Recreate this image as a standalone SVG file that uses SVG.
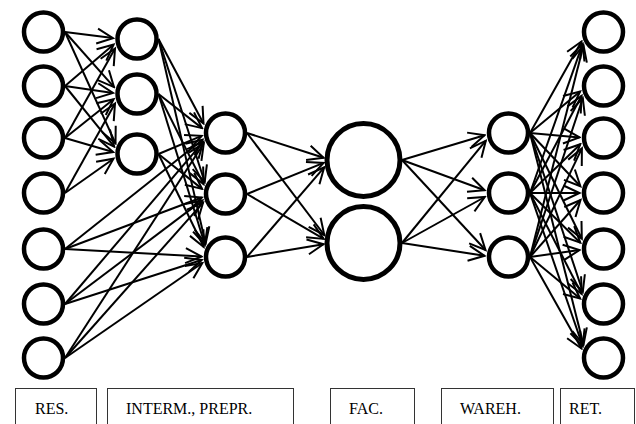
<svg xmlns="http://www.w3.org/2000/svg" width="636" height="424" viewBox="0 0 636 424">
<style>
.n{fill:#fff;stroke:#000;stroke-width:4.5}
.b{fill:#fff;stroke:#000;stroke-width:5}
.c line{stroke:#000;stroke-width:2;marker-end:url(#ah)}
.lb{fill:#fff;stroke:#333;stroke-width:1}
.t{font-family:"Liberation Serif","Times New Roman",serif;font-size:16px;fill:#000}
</style>
<defs>
<marker id="ah" viewBox="-18 -10 20 20" refX="0" refY="0" markerWidth="20" markerHeight="20" markerUnits="userSpaceOnUse" orient="auto">
<path d="M-16,-7.5 L0,0 L-16,7.5" fill="none" stroke="#000" stroke-width="2"/>
</marker>
</defs>
<rect width="636" height="424" fill="#fff"/>
<g id="connectors" class="c">
<line x1="65" y1="32" x2="113" y2="38.1"/>
<line x1="65" y1="32" x2="114" y2="87.1"/>
<line x1="65" y1="32" x2="115.5" y2="143.4"/>
<line x1="65" y1="86" x2="113.6" y2="44.5"/>
<line x1="65" y1="86" x2="113" y2="93"/>
<line x1="65" y1="86" x2="114.2" y2="146.6"/>
<line x1="65" y1="138" x2="115" y2="48.5"/>
<line x1="65" y1="138" x2="113.6" y2="99.2"/>
<line x1="65" y1="138" x2="113.1" y2="152"/>
<line x1="65" y1="193" x2="115" y2="103.5"/>
<line x1="65" y1="193" x2="113.5" y2="158.7"/>
<line x1="65" y1="249" x2="202.5" y2="139.7"/>
<line x1="65" y1="249" x2="201.8" y2="197.5"/>
<line x1="65" y1="249" x2="201.5" y2="256.5"/>
<line x1="65" y1="304" x2="203.2" y2="141.8"/>
<line x1="65" y1="304" x2="202.4" y2="200.4"/>
<line x1="65" y1="304" x2="201.7" y2="260"/>
<line x1="65" y1="358" x2="203.8" y2="143.3"/>
<line x1="65" y1="358" x2="203.1" y2="202.6"/>
<line x1="65" y1="358" x2="202.3" y2="263"/>
<line x1="158.5" y1="39" x2="203.5" y2="123.5"/>
<line x1="158.5" y1="39" x2="204.7" y2="182"/>
<line x1="158.5" y1="39" x2="205.6" y2="243.6"/>
<line x1="158.5" y1="94" x2="202" y2="128.1"/>
<line x1="158.5" y1="94" x2="203.6" y2="184.1"/>
<line x1="158.5" y1="94" x2="204.9" y2="244.7"/>
<line x1="158.5" y1="154" x2="201.7" y2="135.8"/>
<line x1="158.5" y1="154" x2="202" y2="188.9"/>
<line x1="158.5" y1="154" x2="203.7" y2="247"/>
<line x1="247" y1="133" x2="323.6" y2="157.7"/>
<line x1="247" y1="133" x2="324.3" y2="235"/>
<line x1="247" y1="194" x2="323.6" y2="162.9"/>
<line x1="247" y1="194" x2="323.7" y2="238.9"/>
<line x1="247" y1="257" x2="324.2" y2="167.3"/>
<line x1="247" y1="257" x2="323.5" y2="244.2"/>
<line x1="402" y1="160" x2="484.6" y2="135.2"/>
<line x1="402" y1="160" x2="484.6" y2="190.3"/>
<line x1="402" y1="160" x2="485.5" y2="250"/>
<line x1="402" y1="243" x2="485.8" y2="140.7"/>
<line x1="402" y1="243" x2="484.8" y2="197"/>
<line x1="402" y1="243" x2="484.5" y2="255.8"/>
<line x1="530" y1="133" x2="581.5" y2="41.5"/>
<line x1="530" y1="133" x2="580.1" y2="91.5"/>
<line x1="530" y1="133" x2="579.5" y2="137.4"/>
<line x1="530" y1="133" x2="580.4" y2="186.3"/>
<line x1="530" y1="133" x2="581.8" y2="238.7"/>
<line x1="530" y1="133" x2="582.8" y2="291.8"/>
<line x1="530" y1="133" x2="583.5" y2="344.7"/>
<line x1="530" y1="193" x2="582.7" y2="43.9"/>
<line x1="530" y1="193" x2="581.6" y2="95.8"/>
<line x1="530" y1="193" x2="580.3" y2="144.2"/>
<line x1="530" y1="193" x2="579.5" y2="193"/>
<line x1="530" y1="193" x2="580.3" y2="242.7"/>
<line x1="530" y1="193" x2="581.7" y2="294"/>
<line x1="530" y1="193" x2="582.7" y2="346"/>
<line x1="530" y1="257" x2="583.5" y2="45.3"/>
<line x1="530" y1="257" x2="582.8" y2="98.2"/>
<line x1="530" y1="257" x2="581.9" y2="148.4"/>
<line x1="530" y1="257" x2="580.5" y2="200"/>
<line x1="530" y1="257" x2="579.5" y2="250"/>
<line x1="530" y1="257" x2="580.1" y2="298.5"/>
<line x1="530" y1="257" x2="581.5" y2="348.5"/>
</g>
<g id="res1"><circle class="n" cx="43.5" cy="32" r="19.5"/></g>
<g id="res2"><circle class="n" cx="43.5" cy="86" r="19.5"/></g>
<g id="res3"><circle class="n" cx="43.5" cy="138" r="19.5"/></g>
<g id="res4"><circle class="n" cx="43.5" cy="193" r="19.5"/></g>
<g id="res5"><circle class="n" cx="43.5" cy="249" r="19.5"/></g>
<g id="res6"><circle class="n" cx="43.5" cy="304" r="19.5"/></g>
<g id="res7"><circle class="n" cx="43.5" cy="358" r="19.5"/></g>
<g id="int1"><circle class="n" cx="137" cy="39" r="19.5"/></g>
<g id="int2"><circle class="n" cx="137" cy="94" r="19.5"/></g>
<g id="int3"><circle class="n" cx="137" cy="154" r="19.5"/></g>
<g id="pre1"><circle class="n" cx="225.5" cy="133" r="19.5"/></g>
<g id="pre2"><circle class="n" cx="225.5" cy="194" r="19.5"/></g>
<g id="pre3"><circle class="n" cx="225.5" cy="257" r="19.5"/></g>
<g id="fac1"><circle class="b" cx="363.5" cy="160" r="36.5"/></g>
<g id="fac2"><circle class="b" cx="363.5" cy="243" r="36.5"/></g>
<g id="war1"><circle class="n" cx="508.5" cy="133" r="19.5"/></g>
<g id="war2"><circle class="n" cx="508.5" cy="193" r="19.5"/></g>
<g id="war3"><circle class="n" cx="508.5" cy="257" r="19.5"/></g>
<g id="ret1"><circle class="n" cx="603.5" cy="32" r="19.5"/></g>
<g id="ret2"><circle class="n" cx="603.5" cy="86" r="19.5"/></g>
<g id="ret3"><circle class="n" cx="603.5" cy="138" r="19.5"/></g>
<g id="ret4"><circle class="n" cx="603.5" cy="193" r="19.5"/></g>
<g id="ret5"><circle class="n" cx="603.5" cy="249" r="19.5"/></g>
<g id="ret6"><circle class="n" cx="603.5" cy="304" r="19.5"/></g>
<g id="ret7"><circle class="n" cx="603.5" cy="358" r="19.5"/></g>
<g id="label-res"><rect class="lb" x="15.5" y="388.5" width="81" height="45"/><text class="t" x="35" y="414">RES.</text></g>
<g id="label-interm"><rect class="lb" x="107.5" y="388.5" width="186" height="45"/><text class="t" x="126" y="414">INTERM., PREPR.</text></g>
<g id="label-fac"><rect class="lb" x="330.5" y="388.5" width="84" height="45"/><text class="t" x="349" y="414">FAC.</text></g>
<g id="label-wareh"><rect class="lb" x="441.5" y="388.5" width="112" height="45"/><text class="t" x="460" y="414">WAREH.</text></g>
<g id="label-ret"><rect class="lb" x="560.5" y="388.5" width="74" height="45"/><text class="t" x="569" y="414">RET.</text></g>
</svg>
